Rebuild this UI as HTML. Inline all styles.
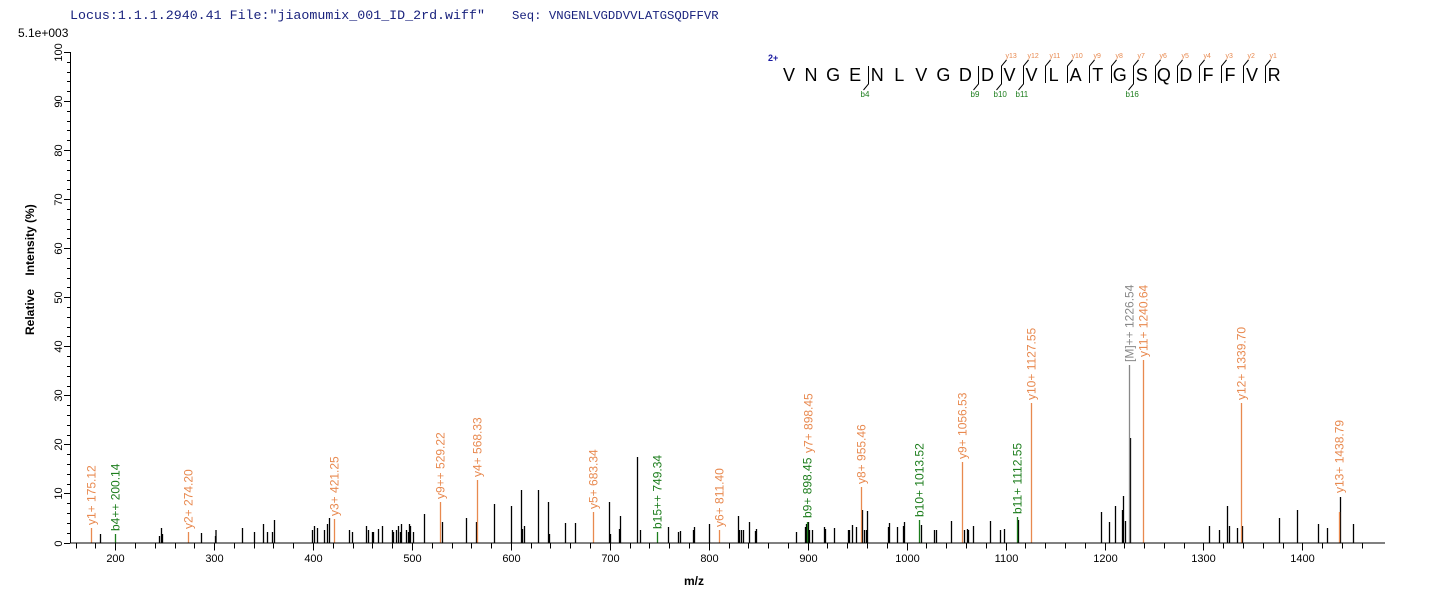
<!DOCTYPE html>
<html><head><meta charset="utf-8"><style>
html,body{margin:0;padding:0;background:#fff;}
svg{display:block;font-family:"Liberation Sans",Arial,sans-serif;}
</style></head><body>
<svg id="s" width="1436" height="602" xmlns="http://www.w3.org/2000/svg">
<rect width="1436" height="602" fill="#fff"/>
<text x="70" y="19" font-family="Liberation Mono,monospace" font-size="13.3" fill="#1a237e">Locus:1.1.1.2940.41 File:"jiaomumix_001_ID_2rd.wiff"</text>
<text x="512" y="19" font-family="Liberation Mono,monospace" font-size="12.3" fill="#1a237e">Seq: VNGENLVGDDVVLATGSQDFFVR</text>
<text x="18" y="37" font-size="12" fill="#000">5.1e+003</text>
<text transform="translate(34,335) rotate(-90)" font-size="12" font-weight="bold" fill="#000" xml:space="preserve">Relative    Intensity (%)</text>
<text x="684" y="585" font-size="12" font-weight="bold" fill="#000">m/z</text>
<g id="axes" stroke="#000" stroke-width="1"></g>
<g id="peaks"></g>
<g id="seq"></g>
</svg>
<script>
const NS="http://www.w3.org/2000/svg";
function el(p,t,a,txt){const e=document.createElementNS(NS,t);for(const k in a)e.setAttribute(k,a[k]);if(txt!==undefined)e.textContent=txt;p.appendChild(e);return e;}
const s=document.getElementById('s'),ax=document.getElementById('axes'),pk=document.getElementById('peaks'),sq=document.getElementById('seq');
const X=m=>115.2+(m-200)*0.9893, B=542.5, Y=v=>B-v*4.905;
el(ax,'line',{x1:70.5,y1:Y(100),x2:70.5,y2:B});
el(ax,'line',{x1:70,y1:B+0.5,x2:1385,y2:B+0.5});
for(let v=0;v<=100;v+=2){const y=Math.round(Y(v))+0.5;el(ax,'line',{x1:v%10?67:64,y1:y,x2:70,y2:y});
 if(v%10==0)el(s,'text',{transform:`translate(62,${y}) rotate(-90)`,'font-size':11,'text-anchor':'middle',fill:'#000'},v);}
for(let m=160;m<=1460;m+=20){const x=Math.round(X(m))+0.5;el(ax,'line',{x1:x,y1:B,x2:x,y2:m%100?B+6:B+8});
 if(m%100==0)el(s,'text',{x:x,y:562,'font-size':11,'text-anchor':'middle',fill:'#000'},m);}
const black=[[100,534],[159,536],[161,528],[162,534],[201,533],[215,536],[215.5,530],[242,528],[254,532],[263,524],[267,532],[272,532],[274,520],[312,530],[314,526],[317,528],[324,530],[327,524],[329,518],[349,530],[352,532],[366,526],[368,530],[372,532],[373,532],[378,529],[382,526],[392,530],[393,532],[396,530],[398,526],[400,532],[401,524],[406,530],[408,532],[409,524],[410,526],[413,532],[424,514],[442,522],[466,518],[476,522],[494,504],[511,506],[521,490],[522,529],[524,526],[538,490],[548,502],[549,534],
[565,523],[575,523],[609,502],[610,534],[619,529],[620,516],[637,457],[640,530],[668,527],[678,532],[680,531],[693,530],[694,527],[709,524],[738,516],[739,530],[741,530],[743,530],[749,522],[755,531],[756,529],[796,532],[805,527],[806,524],[808,522],[809,530],[812,530],[824,527],[825,529],[834,528],[848,530],[849,530],[852,525],[856,527],[862,510],[864,530],[866,530],[867,511],[888,527],[889,523],[897,527],[903,526],[904,522],[921,525],[934,530],[936,530],[951,521],[964,530],[967,529],[968,530],[973,526],[990,521],[1000,530],[1004,529],[1018,520],
[1101,512],[1109,522],[1115,506],[1122,510],[1123,496],[1125,521],[1130,438],[1209,526],[1219,530],[1227,506],[1229,526],[1237,528],[1242,526],[1279,518],[1297,510],[1318,524],[1327,528],[1340,497],[1353,524]];
black.forEach(([x,t])=>el(pk,'line',{x1:x+0.5,y1:t,x2:x+0.5,y2:B,stroke:'#000','stroke-width':1.3}));
const O='#e8894f',G='#1c7d1c',Gr='#888';
const ann=[[91,528,'y1+ 175.12',O,525],[115,534,'b4++ 200.14',G,531],[188,532,'y2+ 274.20',O,529],[334,519,'y3+ 421.25',O,516],[440,502,'y9++ 529.22',O,499],[477,480,'y4+ 568.33',O,477],
[593,512,'y5+ 683.34',O,509],[657,532,'b15++ 749.34',G,529],[719,530,'y6+ 811.40',O,527],[807,522,'b9+ 898.45',G,518],[808,999,'y7+ 898.45',O,453],[861,487,'y8+ 955.46',O,484],[919,520,'b10+ 1013.52',G,517],[962,462,'y9+ 1056.53',O,459],[1017,517,'b11+ 1112.55',G,514],[1031,403,'y10+ 1127.55',O,400],[1129,365,'[M]++ 1226.54',Gr,362],[1143,360,'y11+ 1240.64',O,357],[1241,403,'y12+ 1339.70',O,400],[1339,512,'y13+ 1438.79',O,493]];
ann.forEach(([x,t,lab,c,ty])=>{if(t<999)el(pk,'line',{x1:x+0.5,y1:t,x2:x+0.5,y2:B,stroke:c,'stroke-width':1.3});
 el(pk,'text',{transform:`translate(${x+4.5},${ty}) rotate(-90)`,'font-size':12,fill:c},lab);});
const seq="VNGENLVGDDVVLATGSQDFFVR";
el(sq,'text',{x:768,y:61,'font-size':9,'font-weight':'bold',fill:'#1a1aa0'},'2+');
for(let i=0;i<seq.length;i++)el(sq,'text',{x:789+i*22.05,y:81,'font-size':18,'text-anchor':'middle',fill:'#000'},seq[i]);
for(let i=10;i<=22;i++){const x=Math.round(789+i*22.05-9)+0.5;el(sq,'polyline',{points:`${x+5},60 ${x},66 ${x},83`,fill:'none',stroke:'#000','stroke-width':1});
 el(sq,'text',{x:x+4,y:58,'font-size':7,fill:O},'y'+(23-i));}
[4,9,10,11,16].forEach(i=>{const x=Math.round(789+i*22.05-9)+0.5;el(sq,'polyline',{points:`${x},66 ${x},84 ${x-5},90`,fill:'none',stroke:'#000','stroke-width':1});
 el(sq,'text',{x:x-8,y:97,'font-size':8,fill:G},'b'+i);});
</script>
</body></html>
